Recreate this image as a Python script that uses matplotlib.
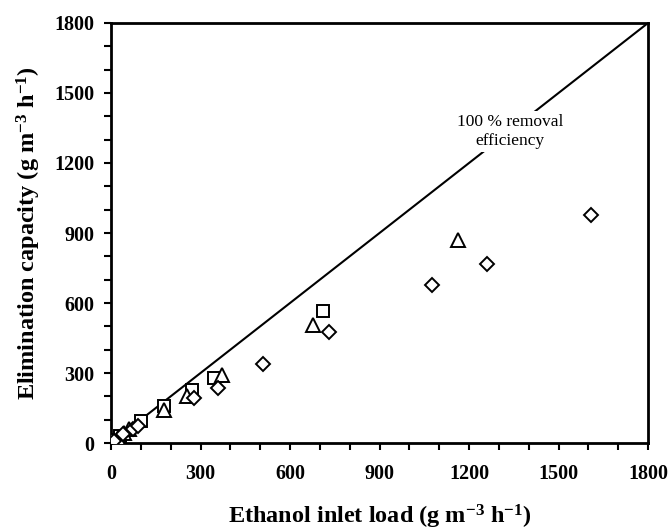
import matplotlib
matplotlib.use("Agg")
import matplotlib.pyplot as plt
from matplotlib.ticker import MultipleLocator

plt.rcParams["font.family"] = "Liberation Serif"
plt.rcParams["mathtext.fontset"] = "custom"
plt.rcParams["mathtext.rm"] = "Liberation Serif:bold"
plt.rcParams["mathtext.it"] = "Liberation Serif:bold"
plt.rcParams["mathtext.bf"] = "Liberation Serif:bold"

# series (inlet load, elimination capacity)
sq_load = [15, 30, 100, 179, 270, 345, 711]
sq_ec = [15, 28, 95, 158, 227, 280, 566]

tri_load = [25, 45, 60, 179, 254, 373, 677, 1163]
tri_ec = [22, 45, 62, 142, 201, 291, 506, 870]

dia_load = [10, 40, 75, 90, 279, 360, 510, 731, 1076, 1260, 1609]
dia_ec = [8, 38, 60, 72, 191, 234, 337, 476, 677, 767, 977]

ideal = [0, 1800]
ticks = [0, 300, 600, 900, 1200, 1500, 1800]

fig = plt.figure(figsize=(6.70, 5.31), dpi=100)
ax = fig.add_axes([0.1657, 0.1657, 0.8015, 0.791])

ax.plot(ideal, ideal, color="black", lw=1.5, zorder=1)
ax.text(1337, 1335, "100 % removal\nefficiency", ha="center", va="center",
        fontsize=12.5, linespacing=1.25,
        bbox=dict(facecolor="white", edgecolor="none", pad=2), zorder=2)

mk = dict(linestyle="none", markerfacecolor="white", markeredgecolor="black",
          markeredgewidth=1.4, zorder=3)
ax.plot(sq_load, sq_ec, marker="s", markersize=8.5, **mk)
ax.plot(tri_load, tri_ec, marker="^", markersize=9.5, **mk)
ax.plot(dia_load, dia_ec, marker="D", markersize=7.5, **mk)

ax.set_xlim(0, 1800)
ax.set_ylim(0, 1800)
ax.set_xticks(ticks)
ax.set_yticks(ticks)
ax.xaxis.set_minor_locator(MultipleLocator(100))
ax.yaxis.set_minor_locator(MultipleLocator(100))
ax.tick_params(which="both", direction="out", length=5, width=1.5)
ax.tick_params(which="major", labelsize=14.5)
ax.tick_params(axis="x", which="major", pad=10)
ax.tick_params(axis="y", which="major", pad=7)
for lab in ax.get_xticklabels() + ax.get_yticklabels():
    lab.set_fontweight("bold")
for s in ax.spines.values():
    s.set_linewidth(2)

ax.set_xlabel("Ethanol inlet load (g m$^{-3}$ h$^{-1}$)", fontsize=17.5,
              fontweight="bold", labelpad=14)
ax.set_ylabel("Elimination capacity (g m$^{-3}$ h$^{-1}$)", fontsize=17.5,
              fontweight="bold", labelpad=8)

fig.savefig("out.png", dpi=100)
